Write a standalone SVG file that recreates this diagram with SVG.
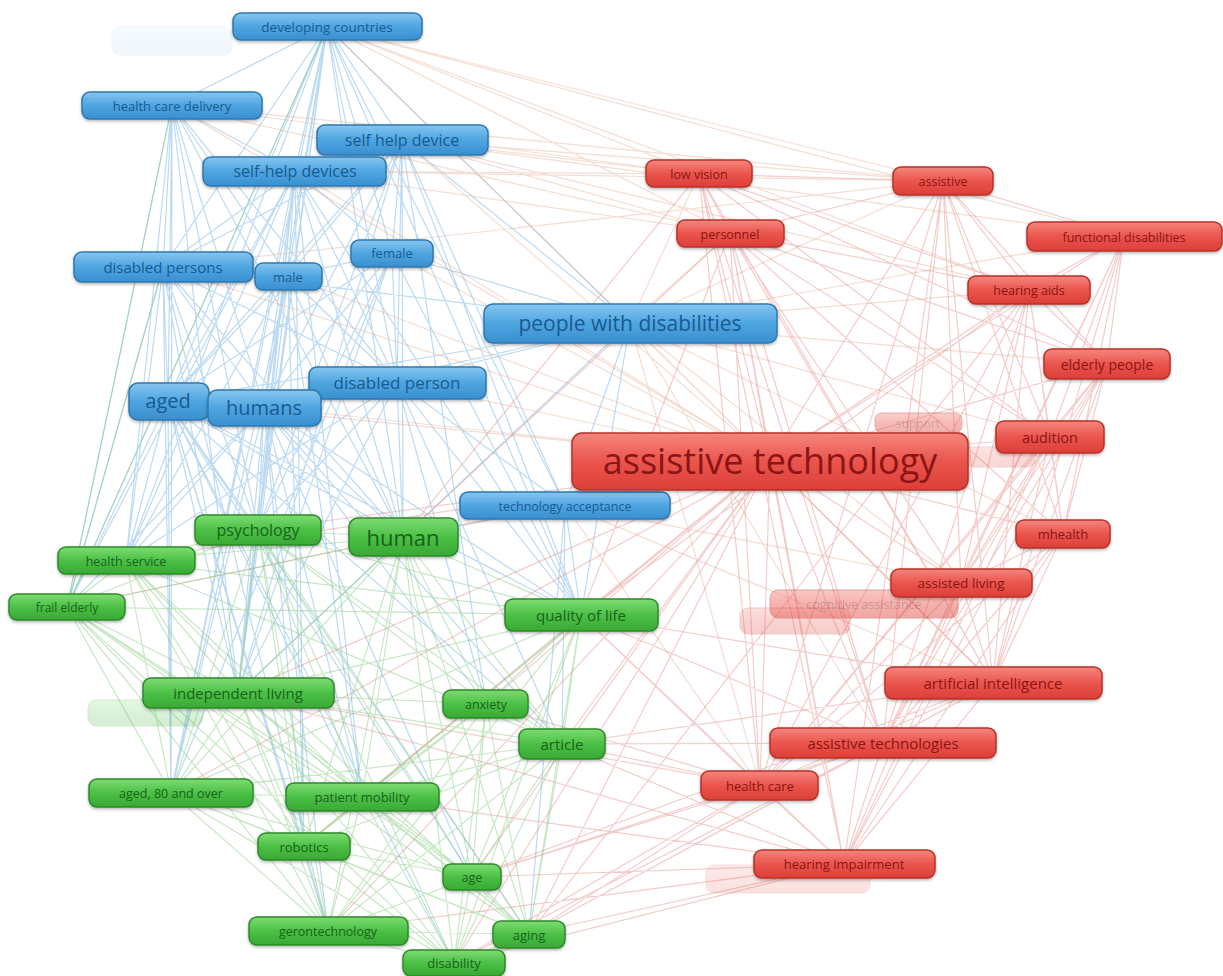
<svg xmlns="http://www.w3.org/2000/svg" width="1223" height="976" viewBox="0 0 1223 976">
<defs>
<linearGradient id="gb" x1="0" y1="0" x2="0" y2="1"><stop offset="0" stop-color="#86c6f0"/><stop offset="0.5" stop-color="#4ea5e0"/><stop offset="1" stop-color="#3a8fcf"/></linearGradient>
<linearGradient id="gr" x1="0" y1="0" x2="0" y2="1"><stop offset="0" stop-color="#f4867e"/><stop offset="0.5" stop-color="#ea554d"/><stop offset="1" stop-color="#dc3f38"/></linearGradient>
<linearGradient id="gg" x1="0" y1="0" x2="0" y2="1"><stop offset="0" stop-color="#7ddc72"/><stop offset="0.5" stop-color="#4cc046"/><stop offset="1" stop-color="#38a934"/></linearGradient>
<filter id="sh" x="-10%" y="-30%" width="120%" height="170%"><feDropShadow dx="0" dy="1.5" stdDeviation="1.5" flood-color="#000" flood-opacity="0.3"/></filter>
<style>
.eb{fill:none;stroke:#6aaee0;stroke-width:1.2;stroke-opacity:0.45}
.er{fill:none;stroke:#e58e8a;stroke-width:1.2;stroke-opacity:0.45}
.eo{fill:none;stroke:#e3a98c;stroke-width:1.2;stroke-opacity:0.4}
.eg{fill:none;stroke:#82c97c;stroke-width:1.2;stroke-opacity:0.45}
.b rect{fill:url(#gb);stroke:#2f78b0;stroke-width:1.5;filter:url(#sh)}
.r rect{fill:url(#gr);stroke:#b83028;stroke-width:1.5;filter:url(#sh)}
.g rect{fill:url(#gg);stroke:#2c8a2a;stroke-width:1.5;filter:url(#sh)}
text{font-family:"Open Sans","DejaVu Sans",sans-serif;text-anchor:middle;dominant-baseline:central}
.b text{fill:#1a5a92}
.r text{fill:#8c1414}
.g text{fill:#17631a}
.fade rect{filter:none;stroke-width:1}
</style>
</defs>
<g id="connectors">
<path class="eb" d="M327 27L172 105M327 27L402 140M327 27L295 171M327 27L163 267M327 27L288 276M327 27L392 253M327 27L630 323M327 27L397 382M327 27L168 401M327 27L264 407M327 27L403 537M327 27L258 530M327 27L126 561M327 27L67 607M327 27L238 693M327 27L171 793M327 27L565 505M327 27L581 615
M172 105L295 171M172 105L163 267M172 105L288 276M172 105L168 401M172 105L264 407M172 105L403 537M172 105L126 561M172 105L67 607M172 105L238 693M172 105L171 793M172 105L258 530M172 105L397 382
M402 140L295 171M402 140L163 267M402 140L288 276M402 140L392 253M402 140L630 323M402 140L397 382M402 140L168 401M402 140L264 407M402 140L403 537M402 140L238 693M402 140L258 530M402 140L581 615M402 140L486 704M402 140L565 505
M295 171L163 267M295 171L288 276M295 171L392 253M295 171L397 382M295 171L168 401M295 171L264 407M295 171L403 537M295 171L238 693M295 171L258 530M295 171L126 561M295 171L67 607M295 171L171 793M295 171L362 797M295 171L581 615M295 171L304 846
M163 267L288 276M163 267L168 401M163 267L264 407M163 267L403 537M163 267L238 693M163 267L258 530M163 267L126 561M163 267L67 607M163 267L171 793M163 267L630 323M163 267L397 382M163 267L328 931
M288 276L392 253M288 276L168 401M288 276L264 407M288 276L403 537M288 276L238 693M288 276L258 530M288 276L126 561M288 276L171 793M288 276L362 797M288 276L304 846M288 276L397 382
M392 253L168 401M392 253L264 407M392 253L403 537M392 253L238 693M392 253L258 530M392 253L397 382M392 253L630 323M392 253L171 793M392 253L581 615
M630 323L403 537M630 323L397 382M630 323L168 401M630 323L264 407M630 323L565 505M630 323L581 615M630 323L238 693
M397 382L168 401M397 382L264 407M397 382L403 537M397 382L238 693M397 382L258 530M397 382L565 505M397 382L581 615M397 382L126 561M397 382L562 744M397 382L486 704
M168 401L264 407M168 401L403 537M168 401L238 693M168 401L258 530M168 401L126 561M168 401L67 607M168 401L171 793M168 401L362 797M168 401L304 846M168 401L328 931M168 401L472 877M168 401L529 934M168 401L454 963M168 401L581 615M168 401L562 744
M264 407L403 537M264 407L238 693M264 407L258 530M264 407L126 561M264 407L67 607M264 407L171 793M264 407L362 797M264 407L304 846M264 407L328 931M264 407L581 615M264 407L562 744M264 407L486 704M264 407L472 877
M565 505L581 615M565 505L403 537M565 505L562 744M565 505L529 934"/>
<path class="eo" d="M327 27L699 174M327 27L943 181M327 27L730 233M327 27L770 461M327 27L1124 236M327 27L1029 290M172 105L770 461M172 105L730 233M172 105L699 174M172 105L943 181M402 140L699 174M402 140L943 181M402 140L730 233M402 140L770 461M402 140L1029 290M402 140L1124 236M295 171L770 461M295 171L699 174M295 171L730 233M295 171L943 181M163 267L770 461M163 267L943 181M288 276L770 461M392 253L770 461M630 323L770 461M630 323L699 174M630 323L730 233M630 323L943 181M630 323L1029 290M630 323L1107 364M630 323L1124 236M630 323L1050 437M630 323L993 683M630 323L883 743M630 323L760 786M630 323L1063 534M630 323L961 583M397 382L770 461M168 401L770 461M264 407L770 461M565 505L770 461M565 505L993 683M565 505L760 786M565 505L961 583"/>
<path class="er" d="M770 461L699 174M770 461L943 181M770 461L730 233M770 461L1124 236M770 461L1029 290M770 461L1107 364M770 461L1050 437M770 461L1063 534M770 461L961 583M770 461L993 683M770 461L883 743M770 461L760 786M770 461L844 864M770 461L403 537M770 461L581 615M770 461L562 744M770 461L486 704M770 461L238 693M770 461L258 530M770 461L472 877M770 461L529 934M770 461L454 963M770 461L328 931M770 461L304 846M770 461L362 797M770 461L126 561M770 461L67 607M770 461L171 793
M699 174L730 233M699 174L943 181M699 174L1029 290M699 174L1107 364M699 174L1050 437M699 174L883 743M699 174L993 683M699 174L760 786M699 174L844 864M699 174L403 537
M943 181L730 233M943 181L1124 236M943 181L1029 290M943 181L1107 364M943 181L1050 437M943 181L1063 534M943 181L993 683M943 181L883 743M943 181L961 583M943 181L844 864M943 181L760 786
M730 233L1029 290M730 233L1107 364M730 233L1050 437M730 233L993 683M730 233L883 743M730 233L760 786M730 233L844 864M730 233L961 583M730 233L1063 534M730 233L581 615M730 233L403 537
M1124 236L1029 290M1124 236L1107 364M1124 236L1050 437M1124 236L1063 534M1124 236L961 583M1124 236L993 683M1124 236L883 743
M1029 290L1107 364M1029 290L1050 437M1029 290L1063 534M1029 290L961 583M1029 290L993 683M1029 290L883 743M1029 290L760 786M1029 290L844 864M1029 290L581 615M1029 290L529 934
M1107 364L1050 437M1107 364L1063 534M1107 364L961 583M1107 364L993 683M1107 364L883 743M1107 364L844 864M1107 364L760 786
M1050 437L1063 534M1050 437L961 583M1050 437L993 683M1050 437L883 743M1050 437L844 864M1050 437L760 786
M1063 534L961 583M1063 534L993 683M1063 534L883 743M1063 534L844 864M1063 534L760 786
M961 583L993 683M961 583L883 743M961 583L760 786M961 583L844 864
M993 683L883 743M993 683L760 786M993 683L844 864M993 683L529 934M993 683L472 877M993 683L581 615M993 683L562 744
M883 743L760 786M883 743L844 864M883 743L529 934M883 743L472 877M883 743L581 615M883 743L562 744M883 743L454 963
M760 786L844 864M760 786L581 615M760 786L562 744M760 786L486 704M760 786L472 877M760 786L238 693M760 786L529 934M760 786L454 963
M844 864L529 934M844 864L472 877M844 864L454 963M844 864L328 931M844 864L581 615M844 864L562 744M844 864L238 693M844 864L362 797"/>
<path class="eg" d="M258 530L403 537M258 530L126 561M258 530L67 607M258 530L238 693M258 530L581 615M258 530L486 704M258 530L562 744M258 530L171 793M258 530L362 797M258 530L304 846M258 530L472 877M258 530L328 931M258 530L529 934M258 530L454 963
M403 537L126 561M403 537L67 607M403 537L238 693M403 537L581 615M403 537L486 704M403 537L562 744M403 537L171 793M403 537L362 797M403 537L304 846M403 537L472 877M403 537L328 931M403 537L529 934M403 537L454 963
M126 561L67 607M126 561L238 693M126 561L171 793M126 561L362 797M126 561L304 846M126 561L328 931M126 561L581 615M126 561L562 744M126 561L529 934
M67 607L238 693M67 607L171 793M67 607L362 797M67 607L304 846M67 607L328 931M67 607L472 877M67 607L529 934M67 607L454 963M67 607L581 615M67 607L172 105M67 607L327 27M67 607L163 267
M581 615L238 693M581 615L486 704M581 615L562 744M581 615L171 793M581 615L362 797M581 615L304 846M581 615L472 877M581 615L328 931M581 615L529 934M581 615L454 963
M238 693L486 704M238 693L562 744M238 693L171 793M238 693L362 797M238 693L304 846M238 693L472 877M238 693L328 931M238 693L529 934M238 693L454 963
M486 704L562 744M486 704L362 797M486 704L304 846M486 704L472 877M486 704L328 931M486 704L529 934M486 704L454 963
M562 744L171 793M562 744L362 797M562 744L304 846M562 744L472 877M562 744L328 931M562 744L529 934M562 744L454 963
M171 793L362 797M171 793L304 846M171 793L472 877M171 793L328 931M171 793L529 934M171 793L454 963
M362 797L304 846M362 797L472 877M362 797L328 931M362 797L529 934M362 797L454 963
M304 846L472 877M304 846L328 931M304 846L529 934M304 846L454 963
M472 877L328 931M472 877L529 934M472 877L454 963M328 931L529 934M328 931L454 963M529 934L454 963"/>
</g>
<g id="faded-nodes">
<g id="n-faded-top" class="b fade" opacity="0.07"><rect x="112" y="27" width="120" height="28" rx="8"/></g>
<g id="n-support" class="r fade" opacity="0.4"><rect x="875" y="413" width="87" height="20" rx="7"/><text x="918" y="423" font-size="12">support</text></g>
<g id="n-faded-au" class="r fade" opacity="0.2"><rect x="965" y="447" width="70" height="20" rx="7"/></g>
<g id="n-cognitive" class="r fade" opacity="0.45"><rect x="770" y="590" width="188" height="28" rx="8"/><text x="864" y="604" font-size="12.5">cognitive assistance</text></g>
<g id="n-faded-red1" class="r fade" opacity="0.25"><rect x="740" y="608" width="110" height="26" rx="8"/></g>
<g id="n-faded-red2" class="r fade" opacity="0.15"><rect x="706" y="865" width="164" height="28" rx="8"/></g>
<g id="n-faded-green" class="g fade" opacity="0.2"><rect x="88" y="700" width="115" height="26" rx="8"/></g>
</g>
<g id="n-developing-countries" class="b"><rect x="233" y="13" width="189" height="27" rx="8"/><text x="327" y="27" font-size="13.5">developing countries</text></g>
<g id="n-health-care-delivery" class="b"><rect x="82" y="92" width="180" height="27" rx="8"/><text x="172" y="106" font-size="13">health care delivery</text></g>
<g id="n-self-help-device" class="b"><rect x="317" y="125" width="171" height="30" rx="8"/><text x="402" y="140" font-size="16">self help device</text></g>
<g id="n-self-help-devices" class="b"><rect x="203" y="157" width="183" height="29" rx="8"/><text x="295" y="171" font-size="16">self-help devices</text></g>
<g id="n-disabled-persons" class="b"><rect x="74" y="252" width="179" height="30" rx="8"/><text x="163" y="267" font-size="15">disabled persons</text></g>
<g id="n-male" class="b"><rect x="255" y="263" width="67" height="27" rx="8"/><text x="288" y="277" font-size="13">male</text></g>
<g id="n-female" class="b"><rect x="351" y="240" width="82" height="27" rx="8"/><text x="392" y="253" font-size="13">female</text></g>
<g id="n-people-with-disabilities" class="b"><rect x="484" y="304" width="293" height="39" rx="9"/><text x="630" y="323" font-size="21">people with disabilities</text></g>
<g id="n-disabled-person" class="b"><rect x="309" y="367" width="177" height="32" rx="8"/><text x="397" y="382" font-size="17">disabled person</text></g>
<g id="n-aged" class="b"><rect x="129" y="383" width="80" height="37" rx="9"/><text x="168" y="400" font-size="20">aged</text></g>
<g id="n-humans" class="b"><rect x="208" y="390" width="113" height="36" rx="9"/><text x="264" y="407" font-size="20">humans</text></g>
<g id="n-technology-acceptance" class="b"><rect x="460" y="492" width="210" height="27" rx="8"/><text x="565" y="506" font-size="12.5">technology acceptance</text></g>
<g id="n-low-vision" class="r"><rect x="646" y="160" width="106" height="27" rx="8"/><text x="699" y="174" font-size="12.5">low vision</text></g>
<g id="n-assistive" class="r"><rect x="893" y="167" width="100" height="28" rx="8"/><text x="943" y="181" font-size="12.5">assistive</text></g>
<g id="n-personnel" class="r"><rect x="677" y="220" width="107" height="27" rx="8"/><text x="730" y="234" font-size="12.5">personnel</text></g>
<g id="n-functional-disabilities" class="r"><rect x="1027" y="222" width="195" height="29" rx="8"/><text x="1124" y="237" font-size="12.5">functional disabilities</text></g>
<g id="n-hearing-aids" class="r"><rect x="968" y="276" width="122" height="28" rx="8"/><text x="1029" y="290" font-size="12.5">hearing aids</text></g>
<g id="n-elderly-people" class="r"><rect x="1044" y="349" width="126" height="30" rx="8"/><text x="1107" y="364" font-size="14">elderly people</text></g>
<g id="n-audition" class="r"><rect x="996" y="421" width="108" height="32" rx="8"/><text x="1050" y="437" font-size="14.5">audition</text></g>
<g id="n-assistive-technology" class="r"><rect x="572" y="433" width="396" height="57" rx="10"/><text x="770" y="460" font-size="36">assistive technology</text></g>
<g id="n-mhealth" class="r"><rect x="1016" y="520" width="94" height="28" rx="8"/><text x="1063" y="534" font-size="13">mhealth</text></g>
<g id="n-assisted-living" class="r"><rect x="891" y="569" width="141" height="28" rx="8"/><text x="961" y="583" font-size="13.5">assisted living</text></g>
<g id="n-artificial-intelligence" class="r"><rect x="885" y="667" width="217" height="32" rx="8"/><text x="993" y="683" font-size="15">artificial intelligence</text></g>
<g id="n-assistive-technologies" class="r"><rect x="770" y="728" width="226" height="30" rx="8"/><text x="883" y="743" font-size="15">assistive technologies</text></g>
<g id="n-health-care" class="r"><rect x="701" y="771" width="117" height="29" rx="8"/><text x="760" y="786" font-size="13">health care</text></g>
<g id="n-hearing-impairment" class="r"><rect x="754" y="850" width="181" height="28" rx="8"/><text x="844" y="864" font-size="13">hearing impairment</text></g>
<g id="n-psychology" class="g"><rect x="195" y="515" width="126" height="30" rx="8"/><text x="258" y="530" font-size="16">psychology</text></g>
<g id="n-human" class="g"><rect x="349" y="518" width="109" height="38" rx="9"/><text x="403" y="537" font-size="22">human</text></g>
<g id="n-health-service" class="g"><rect x="58" y="547" width="137" height="27" rx="8"/><text x="126" y="561" font-size="12.5">health service</text></g>
<g id="n-frail-elderly" class="g"><rect x="9" y="594" width="116" height="26" rx="8"/><text x="67" y="607" font-size="12">frail elderly</text></g>
<g id="n-quality-of-life" class="g"><rect x="505" y="599" width="153" height="32" rx="8"/><text x="581" y="615" font-size="15">quality of life</text></g>
<g id="n-independent-living" class="g"><rect x="143" y="678" width="191" height="30" rx="8"/><text x="238" y="693" font-size="15">independent living</text></g>
<g id="n-anxiety" class="g"><rect x="443" y="690" width="85" height="28" rx="8"/><text x="486" y="704" font-size="12.5">anxiety</text></g>
<g id="n-article" class="g"><rect x="519" y="729" width="86" height="30" rx="8"/><text x="562" y="744" font-size="15">article</text></g>
<g id="n-aged-80" class="g"><rect x="89" y="779" width="164" height="28" rx="8"/><text x="171" y="793" font-size="12.5">aged, 80 and over</text></g>
<g id="n-patient-mobility" class="g"><rect x="286" y="783" width="153" height="28" rx="8"/><text x="362" y="797" font-size="13">patient mobility</text></g>
<g id="n-robotics" class="g"><rect x="258" y="833" width="92" height="27" rx="8"/><text x="304" y="847" font-size="13">robotics</text></g>
<g id="n-age" class="g"><rect x="443" y="864" width="58" height="26" rx="8"/><text x="472" y="877" font-size="12.5">age</text></g>
<g id="n-gerontechnology" class="g"><rect x="249" y="917" width="159" height="28" rx="8"/><text x="328" y="931" font-size="12.5">gerontechnology</text></g>
<g id="n-aging" class="g"><rect x="493" y="921" width="72" height="27" rx="8"/><text x="529" y="935" font-size="13">aging</text></g>
<g id="n-disability" class="g"><rect x="403" y="950" width="102" height="26" rx="8"/><text x="454" y="963" font-size="13">disability</text></g>
</svg>
